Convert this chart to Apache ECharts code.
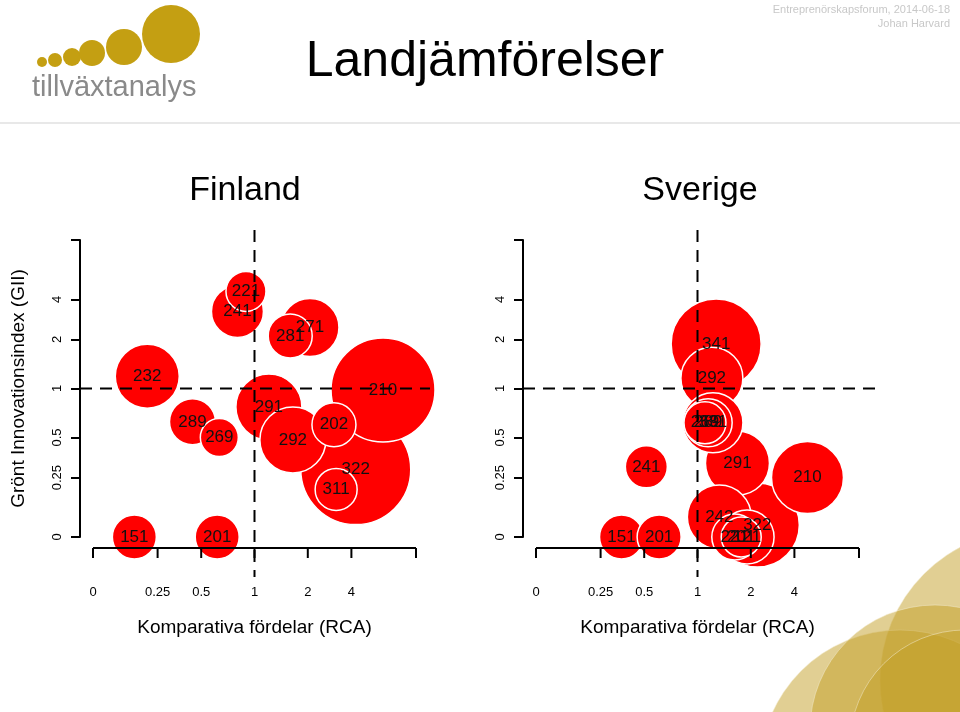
<!DOCTYPE html>
<html><head><meta charset="utf-8">
<script src="https://cdn.jsdelivr.net/npm/echarts@6/dist/echarts.min.js"></script>
<style>html,body{margin:0;padding:0;background:#fff}#c{width:960px;height:712px}</style>
</head><body><div id="c"></div>
<script>
// Scale ticks (nonlinear axis used in the original)
const tickValues = [0, 0.25, 0.5, 1, 2, 4, 8];
const tickPos    = [0, 0.2, 0.335, 0.5, 0.665, 0.8, 0.935];
const tickLabels = ['0', '0.25', '0.5', '1', '2', '4'];

// Finland
const finLabels = ['322','210','291','292','232','271','241','289','281','202','151','201','311','221','269'];
const finRCA    = [4.4, 6.9, 1.27, 1.72, 0.21, 2.1, 0.84, 0.45, 1.67, 3.2, 0.16, 0.65, 3.3, 0.92, 0.67];
const finGII    = [0.30, 0.985, 0.81, 0.485, 1.25, 2.6, 3.4, 0.66, 2.18, 0.63, 0, 0, 0.20, 4.8, 0.5];
const finSize   = [55, 52, 33, 33, 32, 29, 26, 23, 22, 22, 22, 22, 21, 20, 19];

// Sverige
const sweLabels = ['341','322','210','291','242','292','331','121','289','221','201b','269','241','151','201'];
const sweRCA    = [1.35, 2.3, 5.2, 1.75, 1.41, 1.27, 1.29, 1.93, 1.2, 1.7, 1.82, 1.14, 0.52, 0.37, 0.64];
const sweGII    = [1.91, 0.05, 0.25, 0.34, 0.084, 1.21, 0.65, 0, 0.65, 0, 0, 0.65, 0.317, 0, 0];
const sweSize   = [45, 42, 36, 32, 32, 31, 30, 27, 24, 23, 20, 21, 21, 22, 22];

function tr(v){
  for(let i=0;i<tickValues.length-1;i++){
    if(v<=tickValues[i+1]){
      const t=(v-tickValues[i])/(tickValues[i+1]-tickValues[i]);
      return tickPos[i]+t*(tickPos[i+1]-tickPos[i]);
    }
  }
  return tickPos[tickPos.length-1];
}
function build(labels,x,y,s){
  return labels.map((l,i)=>({value:[tr(x[i]),tr(y[i])],name:l.replace('b',''),symbolSize:2*s[i]}));
}
const FONT='Liberation Sans, Arial, sans-serif';
function fmt(v){const i=tickPos.findIndex(p=>Math.abs(p-v)<1e-6);return i>=0?tickLabels[i]:'';}
function xAxis(idx){
  return {type:'value',gridIndex:idx,min:0,max:1,offset:11,
    axisLine:{show:false},axisTick:{show:false},
    axisLabel:{customValues:tickPos.slice(0,6),margin:38,color:'#000',fontSize:13,fontFamily:FONT,formatter:fmt},
    splitLine:{show:false},
    name:'Komparativa fördelar (RCA)',nameLocation:'middle',nameGap:70,
    nameTextStyle:{color:'#000',fontSize:19,fontFamily:FONT}};
}
function yAxis(idx,name){
  return {type:'value',gridIndex:idx,min:0,max:1,offset:13,
    axisLine:{show:true,onZero:false,lineStyle:{color:'#000',width:2}},
    axisTick:{show:true,inside:false,length:9,customValues:[...tickPos.slice(0,6),1],lineStyle:{color:'#000',width:2}},
    axisLabel:{customValues:tickPos.slice(0,6),margin:16,rotate:90,color:'#000',fontSize:13,fontFamily:FONT,formatter:fmt},
    splitLine:{show:false},
    name:name||'',nameLocation:'middle',nameGap:52,
    nameTextStyle:{color:'#000',fontSize:19,fontFamily:FONT}};
}
function ser(idx,data){
  return {type:'scatter',xAxisIndex:idx,yAxisIndex:idx,data:data,
    itemStyle:{color:'#ff0000',opacity:1,borderColor:'#fff',borderWidth:1.5},
    label:{show:true,position:'inside',formatter:p=>p.name,color:'#111',fontSize:17,fontFamily:FONT},
    emphasis:{disabled:true},animation:false};
}
const chart=echarts.init(document.getElementById('c'),null,{renderer:'canvas'});
chart.setOption({
  animation:false,
  grid:[{left:93,top:240,width:323,height:297},{left:536,top:240,width:323,height:297}],
  xAxis:[xAxis(0),xAxis(1)],
  yAxis:[yAxis(0,'Grönt Innovationsindex (GII)'),yAxis(1)],
  series:[ser(0,build(finLabels,finRCA,finGII,finSize)),ser(1,build(sweLabels,sweRCA,sweGII,sweSize))]
});
const one=tr(1);
const g=[];
function seg(x1,y1,x2,y2,dash){g.push({type:'line',shape:{x1,y1,x2,y2},style:{stroke:'#000',lineWidth:2,lineDash:dash||null},z:10});}
[[0,80,430],[1,523,875]].forEach(([i,l,r])=>{
  const p=chart.convertToPixel({gridIndex:i},[one,one]);
  seg(p[0],230,p[0],577,[12,8]);
  seg(l,p[1],r,p[1],[12,8]);
  // x axis line and outward ticks
  const a=chart.convertToPixel({gridIndex:i},[0,0]), b=chart.convertToPixel({gridIndex:i},[1,0]);
  seg(a[0],a[1]+11,b[0],a[1]+11);
  tickPos.slice(0,6).concat([1]).forEach(t=>{
    const q=chart.convertToPixel({gridIndex:i},[t,0]);
    seg(q[0],q[1]+11,q[0],q[1]+21);
  });
});
// background decoration
[[1030,680,150],[900,770,140],[935,730,125],[965,745,115]].forEach(c=>
  g.push({type:'circle',shape:{cx:c[0],cy:c[1],r:c[2]},style:{fill:'#c4a027',opacity:0.5,stroke:'#f4ecd0',lineWidth:1},z:-5}));
// logo
[[42,62,5],[55,60,7],[72,57,9],[92,53,13],[124,47,18],[171,34,29]].forEach(c=>
  g.push({type:'circle',shape:{cx:c[0],cy:c[1],r:c[2]},style:{fill:'#c49f12'}}));
g.push({type:'text',style:{text:'tillväxtanalys',x:32,y:88,fill:'#8a8a8a',font:'29px '+FONT,textVerticalAlign:'middle'}});
g.push({type:'text',style:{text:'Landjämförelser',x:485,y:62,fill:'#000',font:'50px '+FONT,textAlign:'center',textVerticalAlign:'middle'}});
g.push({type:'text',style:{text:'Entreprenörskapsforum, 2014-06-18',x:950,y:10,fill:'#c8c8c8',font:'11px '+FONT,textAlign:'right',textVerticalAlign:'middle'}});
g.push({type:'text',style:{text:'Johan Harvard',x:950,y:24,fill:'#c8c8c8',font:'11px '+FONT,textAlign:'right',textVerticalAlign:'middle'}});
g.push({type:'rect',shape:{x:0,y:122,width:960,height:2},style:{fill:'#e8e8e8'}});
g.push({type:'text',style:{text:'Finland',x:245,y:191,fill:'#000',font:'34px '+FONT,textAlign:'center',textVerticalAlign:'middle'}});
g.push({type:'text',style:{text:'Sverige',x:700,y:191,fill:'#000',font:'34px '+FONT,textAlign:'center',textVerticalAlign:'middle'}});
chart.setOption({graphic:g});
</script></body></html>
